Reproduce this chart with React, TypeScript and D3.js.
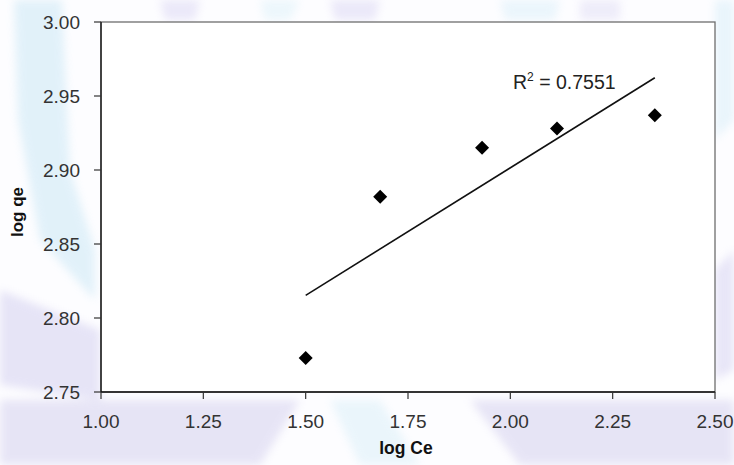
import React from "react";
import * as d3 from "d3";

const logCe = [1.5, 1.682, 1.931, 2.114, 2.353];
const logQe = [2.773, 2.882, 2.915, 2.928, 2.937];
const xTicks = [1.0, 1.25, 1.5, 1.75, 2.0, 2.25, 2.5];
const yTicks = [2.75, 2.8, 2.85, 2.9, 2.95, 3.0];
const r2Label = "0.7551";

const W = 734;
const H = 465;
const M = { left: 101, right: 715, top: 22, bottom: 392 };
const FONT = "'Liberation Sans', Arial, sans-serif";

export default function App() {
  const x = d3.scaleLinear().domain([1.0, 2.5]).range([M.left, M.right]);
  const y = d3.scaleLinear().domain([2.75, 3.0]).range([M.bottom, M.top]);

  const mx = d3.mean(logCe)!;
  const my = d3.mean(logQe)!;
  let sxy = 0, sxx = 0;
  logCe.forEach((v, i) => {
    sxy += (v - mx) * (logQe[i] - my);
    sxx += (v - mx) * (v - mx);
  });
  const slope = sxy / sxx;
  const icpt = my - slope * mx;
  const x0 = d3.min(logCe)!;
  const x1 = d3.max(logCe)!;
  const trend = d3.line<number>()(
    [x0, x1].map((v) => [x(v), y(icpt + slope * v)] as [number, number])
  );

  const diamond = (cx: number, cy: number, r: number) =>
    `M${cx},${cy - r}L${cx + r},${cy}L${cx},${cy + r}L${cx - r},${cy}Z`;

  return (
    <svg
      width={W}
      height={H}
      style={{ position: "absolute", left: 0, top: 0, display: "block" }}
    >
      <defs>
        <filter id="blur" x="-10%" y="-10%" width="120%" height="120%">
          <feGaussianBlur stdDeviation="4" />
        </filter>
      </defs>
      {/* faint watermark-like background */}
      <rect x={0} y={0} width={W} height={H} fill="#fdfdff" />
      <g opacity={0.4} filter="url(#blur)">
        <path d="M14,0 L62,0 L70,170 L95,250 L95,300 L40,240 L18,120 Z" fill="#b9e0f2" />
        <path d="M0,290 L100,330 L100,400 L0,385 Z" fill="#c4bfea" />
        <path d="M0,400 L300,400 L260,465 L0,465 Z" fill="#c6c1e8" />
        <path d="M330,400 L380,400 L420,465 L360,465 Z" fill="#cfeaf6" />
        <path d="M470,400 L734,400 L734,465 L520,465 Z" fill="#c6c1e8" />
        <path d="M715,270 L734,250 L734,370 L715,380 Z" fill="#c8c3ec" />
        <path d="M715,0 L734,0 L734,120 L715,140 Z" fill="#cbe8f6" />
        <path d="M160,0 L200,0 L195,20 L165,20 Z" fill="#d0caf0" />
        <path d="M330,0 L380,0 L375,20 L335,20 Z" fill="#d0caf0" />
        <path d="M260,0 L300,0 L290,20 L265,20 Z" fill="#d4eef8" />
        <path d="M500,0 L560,0 L555,20 L505,20 Z" fill="#d0ebf8" />
        <path d="M580,0 L620,0 L620,20 L580,20 Z" fill="#d8d4f2" />
      </g>

      {/* plot area */}
      <rect
        x={M.left}
        y={M.top}
        width={M.right - M.left}
        height={M.bottom - M.top}
        fill="#ffffff"
        stroke="#6e6e6e"
        strokeWidth={1.3}
      />
      {/* axes */}
      <line x1={M.left} x2={M.left} y1={M.top} y2={M.bottom} stroke="#111" strokeWidth={1.3} />
      <line x1={M.left} x2={M.right} y1={M.bottom} y2={M.bottom} stroke="#111" strokeWidth={1.3} />

      {yTicks.map((t) => (
        <g key={"y" + t}>
          <line x1={M.left - 7} x2={M.left} y1={y(t)} y2={y(t)} stroke="#333" strokeWidth={1.2} />
          <text
            x={80}
            y={y(t)}
            dy="0.36em"
            textAnchor="end"
            fontFamily={FONT}
            fontSize={19}
            fill="#333"
          >
            {t.toFixed(2)}
          </text>
        </g>
      ))}
      {xTicks.map((t) => (
        <g key={"x" + t}>
          <line x1={x(t)} x2={x(t)} y1={M.bottom} y2={M.bottom + 7} stroke="#333" strokeWidth={1.2} />
          <text
            x={x(t)}
            y={428}
            textAnchor="middle"
            fontFamily={FONT}
            fontSize={19}
            fill="#333"
          >
            {t.toFixed(2)}
          </text>
        </g>
      ))}

      <text
        x={406}
        y={454}
        textAnchor="middle"
        fontFamily={FONT}
        fontSize={17.5}
        fontWeight="bold"
        fill="#111"
      >
        log Ce
      </text>
      <text
        transform={`translate(23,212) rotate(-90)`}
        textAnchor="middle"
        fontFamily={FONT}
        fontSize={17}
        fontWeight="bold"
        fill="#111"
      >
        log qe
      </text>

      <path d={trend || ""} stroke="#111" strokeWidth={1.6} fill="none" />

      {logCe.map((v, i) => (
        <path key={i} d={diamond(x(v), y(logQe[i]), 7)} fill="#000" />
      ))}

      <text x={513} y={89} fontFamily={FONT} fontSize={19.5} fill="#222">
        R<tspan fontSize={12} dy={-8}>2</tspan>
        <tspan dy={8}>{" = " + r2Label}</tspan>
      </text>
    </svg>
  );
}
